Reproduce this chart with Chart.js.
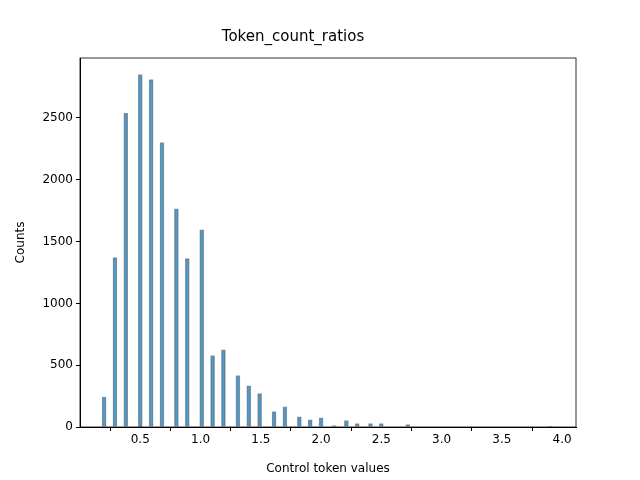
<!DOCTYPE html>
<html><head><script src="https://cdn.jsdelivr.net/npm/chart.js@4"></script>
<style>body{margin:0;background:#fff}#w{width:640px;height:480px}</style></head>
<body><div id="w"><canvas id="c"></canvas></div>
<script>
const binCenters=[0.20,0.29,0.38,0.50,0.59,0.68,0.80,0.89,1.01,1.10,1.19,1.31,1.40,1.49,1.61,1.70,1.82,1.91,2.00,2.11,2.21,2.30,2.41,2.50,2.72,3.90];
const counts=[243,1370,2538,2850,2810,2300,1764,1362,1596,577,625,415,334,270,124,164,83,59,75,11,51,27,27,27,19,2];
const xTicks=[0.5,1.0,1.5,2.0,2.5,3.0,3.5,4.0];
const yTicks=[0,500,1000,1500,2000,2500];
const F={family:'DejaVu Sans',size:12};
const box={id:'box',afterDraw(ch){const a=ch.chartArea,c=ch.ctx;c.save();c.strokeStyle='#000';c.lineWidth=0.8;c.strokeRect(a.left,a.top,a.right-a.left,a.bottom-a.top);c.restore();}};
new Chart(document.getElementById('c'),{type:'bar',
data:{datasets:[{data:binCenters.map((x,i)=>({x,y:counts[i]})),backgroundColor:'rgba(31,119,180,0.75)',borderColor:'rgba(90,90,90,0.6)',borderWidth:0.8,barThickness:4}]},
options:{responsive:true,maintainAspectRatio:false,animation:false,
layout:{padding:{left:10,right:64,top:28,bottom:0}},
plugins:{legend:{display:false},tooltip:{enabled:false},
title:{display:true,text:'Token_count_ratios',color:'#000',font:{family:'DejaVu Sans',size:15,weight:'normal'},padding:{top:0,bottom:12}}},
scales:{
x:{type:'linear',offset:false,min:0.0,max:4.115,afterBuildTicks(s){s.ticks=xTicks.map(v=>({value:v}));},afterFit(s){s.height=53;},
ticks:{color:'#000',font:F,callback:v=>v.toFixed(1),maxRotation:0,padding:2},grid:{display:true,drawOnChartArea:false,tickLength:4,color:'#000'},border:{color:'#000'},
title:{display:true,text:'Control token values',color:'#000',font:{family:'DejaVu Sans',size:12},padding:{top:2}}},
y:{min:0,max:2985,afterBuildTicks(s){s.ticks=yTicks.map(v=>({value:v}));},afterFit(s){s.width=70;},
ticks:{color:'#000',font:F,callback:v=>String(v),padding:3},grid:{display:true,drawOnChartArea:false,tickLength:4,color:'#000'},border:{color:'#000'},
title:{display:true,text:'Counts',color:'#000',font:{family:'DejaVu Sans',size:12},padding:{bottom:2}}}}},
plugins:[box]});
</script></body></html>
